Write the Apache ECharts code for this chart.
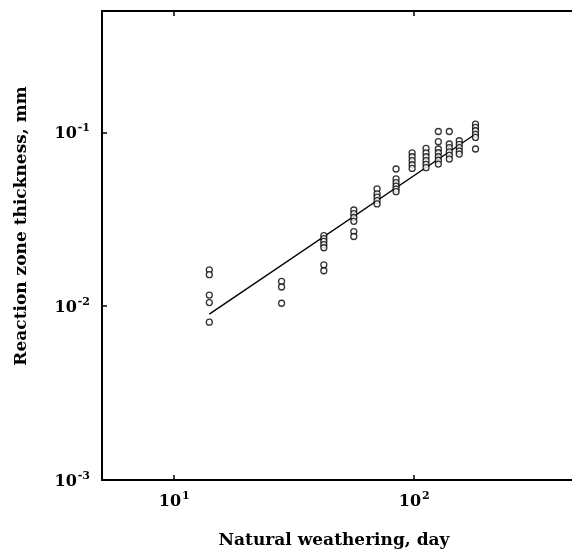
<!DOCTYPE html>
<html>
<head>
<meta charset="utf-8">
<script src="https://cdn.jsdelivr.net/npm/echarts@6/dist/echarts.min.js"></script>
<style>
  html, body { margin: 0; padding: 0; background: #fff; overflow: hidden; }
  /* the plot box continues past the right edge of the 572px page */
  #chart { width: 600px; height: 550px; }
</style>
</head>
<body>
<div id="chart"></div>
<script>
// Exposure time of each sample group (days)
const dayGroups = [14, 28, 42, 56, 70, 84, 98, 112, 126, 140, 154, 180];

// Measured reaction-zone thickness (mm) for each group above
const thickness = [
  [0.0162, 0.0152, 0.0116, 0.0105, 0.0081],
  [0.0139, 0.0129, 0.0104],
  [0.0255, 0.0245, 0.0236, 0.0226, 0.0217, 0.0173, 0.0160],
  [0.0358, 0.0341, 0.0324, 0.0308, 0.0269, 0.0252],
  [0.0473, 0.0443, 0.0424, 0.0405, 0.0388],
  [0.0616, 0.0540, 0.0514, 0.0491, 0.0472, 0.0456],
  [0.0762, 0.0725, 0.0688, 0.0652, 0.0621],
  [0.0809, 0.0762, 0.0725, 0.0688, 0.0656, 0.0627],
  [0.1013, 0.0885, 0.0803, 0.0764, 0.0725, 0.0692, 0.0658],
  [0.1013, 0.0858, 0.0817, 0.0774, 0.0739, 0.0703],
  [0.0896, 0.0855, 0.0817, 0.0780, 0.0751],
  [0.1117, 0.1071, 0.1023, 0.0976, 0.0936, 0.0803]
];

// Power-law fit through the data
const fitDays = [14, 180];
const fitThickness = [0.0090, 0.098];

// Axis ranges
const xRange = [5, 500];
const yRange = [0.001, 0.5];

const FONT = '"DejaVu Serif", "Liberation Serif", serif';

const points = [];
dayGroups.forEach((d, i) => thickness[i].forEach(v => points.push([d, v])));
const fitLine = fitDays.map((d, i) => [d, fitThickness[i]]);

function powerLabel(v) {
  const e = Math.round(Math.log10(v));
  if (Math.abs(v / Math.pow(10, e) - 1) > 1e-6) return '';
  return '{b|10}{s|' + e + '}';
}

const richLabel = {
  b: { fontFamily: FONT, fontWeight: 'bold', fontSize: 16, color: '#000', lineHeight: 19, verticalAlign: 'bottom' },
  s: { fontFamily: FONT, fontWeight: 'bold', fontSize: 11, color: '#000', lineHeight: 19, verticalAlign: 'top', padding: [0, 0, 6, 1] }
};

const axisLineStyle = { color: '#000', width: 2 };

const chart = echarts.init(document.getElementById('chart'), null, { renderer: 'canvas' });
chart.setOption({
  backgroundColor: '#fff',
  animation: false,
  grid: { left: 102, top: 11, width: 480, height: 469, containLabel: false, outerBoundsMode: 'none' },
  xAxis: [
    {
      type: 'log', logBase: 10, min: xRange[0], max: xRange[1],
      axisLine: { show: true, onZero: false, lineStyle: axisLineStyle },
      axisTick: { show: true, inside: true, length: 5, lineStyle: { color: '#000', width: 1.5 } },
      axisLabel: { formatter: powerLabel, rich: richLabel, margin: 11, showMinLabel: false, showMaxLabel: false },
      splitLine: { show: false },
      minorTick: { show: false }
    },
    {
      type: 'log', logBase: 10, min: xRange[0], max: xRange[1], position: 'top',
      axisLine: { show: true, onZero: false, lineStyle: axisLineStyle },
      axisTick: { show: true, inside: true, length: 5, lineStyle: { color: '#000', width: 1.5 } },
      axisLabel: { show: false },
      splitLine: { show: false }
    }
  ],
  yAxis: {
    type: 'log', logBase: 10, min: yRange[0], max: yRange[1],
    axisLine: { show: true, onZero: false, lineStyle: axisLineStyle },
    axisTick: { show: true, inside: true, length: 5, lineStyle: { color: '#000', width: 1.5 } },
    axisLabel: { formatter: powerLabel, rich: richLabel, margin: 12, showMaxLabel: false },
    splitLine: { show: false }
  },
  graphic: [
    {
      type: 'text', x: 334, y: 541,
      style: {
        text: 'Natural weathering, day', fill: '#000',
        font: 'bold 17px ' + FONT, textAlign: 'center', textVerticalAlign: 'middle'
      }
    },
    {
      type: 'text', x: 22, y: 226, rotation: Math.PI / 2,
      style: {
        text: 'Reaction zone thickness, mm', fill: '#000',
        font: 'bold 17px ' + FONT, textAlign: 'center', textVerticalAlign: 'middle'
      }
    }
  ],
  series: [
    {
      type: 'line', data: fitLine, xAxisIndex: 0, showSymbol: false, symbol: 'none',
      lineStyle: { color: '#000', width: 1.4 }, z: 2
    },
    {
      type: 'scatter', data: points, xAxisIndex: 0,
      symbol: 'circle', symbolSize: 6,
      itemStyle: { color: '#fff', borderColor: '#000', borderWidth: 1.3 }, z: 3
    }
  ]
});
</script>
</body>
</html>
